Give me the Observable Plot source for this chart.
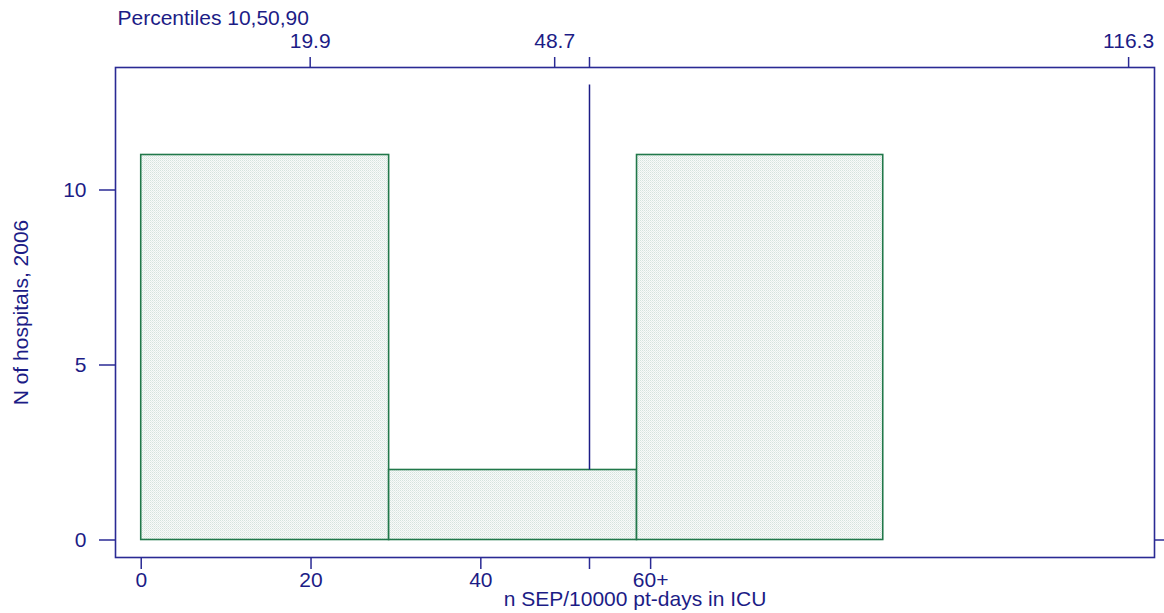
<!DOCTYPE html>
<html>
<head>
<meta charset="utf-8">
<script src="https://cdn.jsdelivr.net/npm/d3@7"></script>
<script src="https://cdn.jsdelivr.net/npm/@observablehq/plot@0.6"></script>
<style>
  html, body { margin: 0; padding: 0; background: #fff; }
  #chart svg { display: block; }
</style>
</head>
<body>
<div id="chart"></div>
<script>
// Histogram bins (x start, x end) and counts
const binStart = [0, 29.2, 58.4];
const binEnd = [29.2, 58.4, 87.4];
const counts = [11, 2, 11];

// Reference line (vertical) value and extent
const refLineX = 52.8;
const refLineFrom = 2;
const refLineTo = 13;

// Bottom axis ticks
const bottomTicks = [0, 20, 40, 52.8, 60];
const bottomTickLabels = ["0", "20", "40", "", "60+"];

// Top axis: percentiles 10,50,90 (plus reference line tick)
const topTicks = [19.9, 48.7, 52.8, 116.3];
const topTickLabels = ["19.9", "48.7", "", "116.3"];

// Left axis ticks
const yTicks = [0, 5, 10];

const navy = "#1c1c86";
const frameColor = "#2a2a94";
const green = "#21784a";
const fs = 21;

const bins = binStart.map((s, i) => ({x1: s, x2: binEnd[i], n: counts[i]}));

const fmt = (ticks, labels) => (d) => labels[ticks.indexOf(d)] ?? "";

const plot = Plot.plot({
  width: 1164,
  height: 613,
  marginLeft: 115,
  marginRight: 10,
  marginTop: 67,
  marginBottom: 56,
  style: {fontFamily: "'Liberation Sans', Arial, sans-serif", fontSize: fs + "px", color: navy, background: "#fff"},
  x: {domain: [-3.03, 119.35]},
  y: {domain: [-0.5, 13.5]},
  marks: [
    Plot.rect(bins, {x1: "x1", x2: "x2", y1: 0, y2: "n", fill: "#e8f0ec", stroke: green, strokeWidth: 1.6}),
    Plot.ruleX([refLineX], {y1: refLineFrom, y2: refLineTo, stroke: navy, strokeWidth: 1.5}),
    Plot.frame({stroke: frameColor, strokeWidth: 1.6}),
    Plot.axisX({anchor: "bottom", ticks: bottomTicks, tickFormat: fmt(bottomTicks, bottomTickLabels),
      tickSize: 12, tickPadding: 3, stroke: frameColor, strokeWidth: 1.5, fill: navy, fontSize: fs,
      label: "n SEP/10000 pt-days in ICU", labelAnchor: "center", labelArrow: "none", labelOffset: 48}),
    Plot.axisX({anchor: "top", ticks: topTicks, tickFormat: fmt(topTicks, topTickLabels),
      tickSize: 11, tickPadding: 9, stroke: frameColor, strokeWidth: 1.5, fill: navy, fontSize: fs, label: null}),
    Plot.axisY({anchor: "left", ticks: yTicks, tickFormat: d => String(d),
      tickSize: 16, tickPadding: 13, stroke: frameColor, strokeWidth: 1.5, fill: navy, fontSize: fs,
      label: "N of hospitals, 2006", labelAnchor: "center", labelArrow: "none", labelOffset: 102}),
    Plot.axisY({anchor: "right", ticks: [0], tickFormat: () => "", tickSize: 10,
      stroke: frameColor, strokeWidth: 1.5, label: null}),
    Plot.text(["Percentiles 10,50,90"], {frameAnchor: "top-left", dx: 2, dy: -43, textAnchor: "start",
      lineAnchor: "bottom", fill: navy, fontSize: fs})
  ]
});

// stippled fill pattern for bars
const svg = d3.select(plot);
const defs = svg.insert("defs", ":first-child");
const pat = defs.append("pattern").attr("id", "stipple").attr("patternUnits", "userSpaceOnUse")
  .attr("width", 2).attr("height", 2);
pat.append("rect").attr("width", 2).attr("height", 2).attr("fill", "#f8faf9");
pat.append("rect").attr("width", 1).attr("height", 1).attr("fill", "#d5e3dd");
pat.append("rect").attr("x", 1).attr("y", 1).attr("width", 1).attr("height", 1).attr("fill", "#e4ede9");
svg.selectAll("g[aria-label='rect'] rect").attr("fill", "url(#stipple)");

document.getElementById("chart").appendChild(plot);
</script>
</body>
</html>
